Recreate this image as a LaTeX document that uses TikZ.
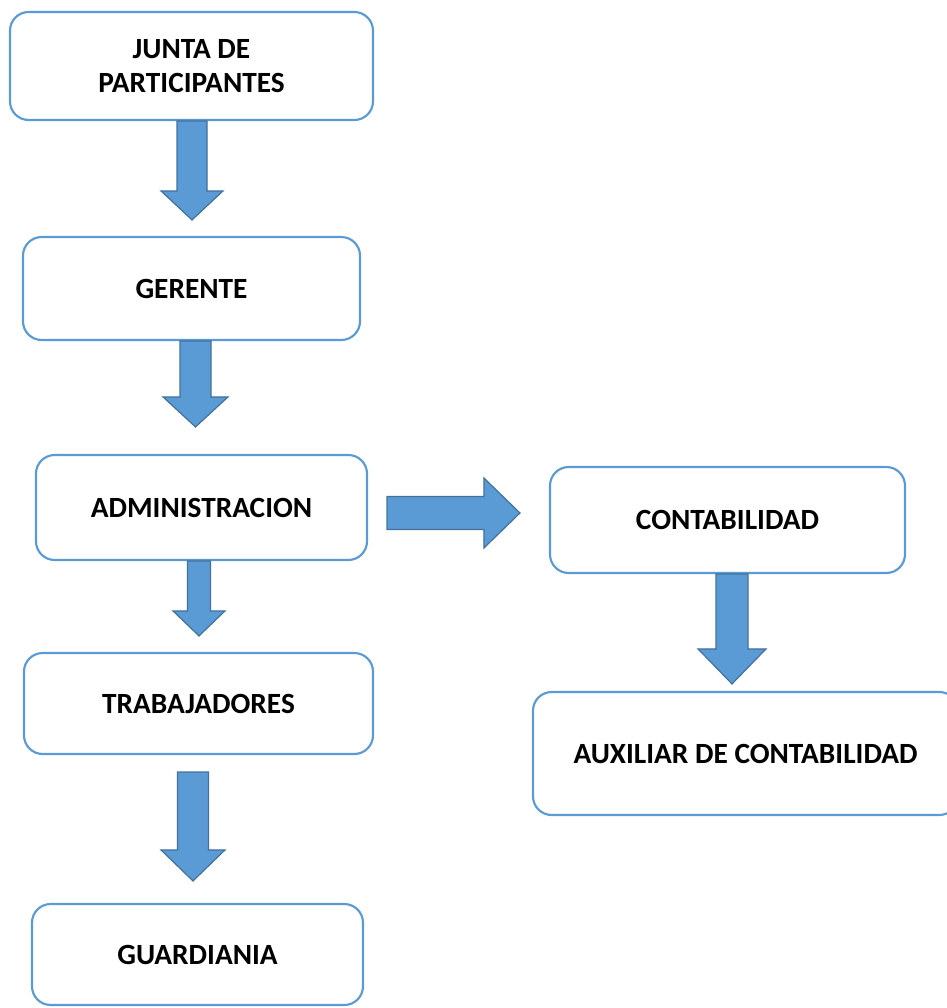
\documentclass[tikz,border=0pt]{standalone}
\usepackage{fontspec}
\setmainfont{Carlito}
\usetikzlibrary{calc}
\definecolor{boxline}{RGB}{91,155,213}
\definecolor{arrowfill}{RGB}{91,155,213}
\definecolor{arrowline}{RGB}{65,113,156}
\tikzset{
  cargo/.style={draw=boxline, line width=1.6pt, rounded corners=14pt, fill=white,
    align=center, inner sep=0pt,
    font=\bfseries\fontsize{22}{25.5}\selectfont},
  % block arrows, args: shaft half width, head half width, head length (px)
  blockdown/.style n args={3}{fill=arrowfill, draw=arrowline, line width=0.9pt,
    to path={let \p1=(\tikztostart), \p2=(\tikztotarget) in
      (\x1-#1*0.75pt,\y1) -- (\x1-#1*0.75pt,\y2+#3*0.75pt) -- (\x1-#2*0.75pt,\y2+#3*0.75pt)
      -- (\x1,\y2) -- (\x1+#2*0.75pt,\y2+#3*0.75pt) -- (\x1+#1*0.75pt,\y2+#3*0.75pt)
      -- (\x1+#1*0.75pt,\y1) -- cycle}},
  blockright/.style n args={3}{fill=arrowfill, draw=arrowline, line width=0.9pt,
    to path={let \p1=(\tikztostart), \p2=(\tikztotarget) in
      (\x1,\y1+#1*0.75pt) -- (\x2-#3*0.75pt,\y1+#1*0.75pt) -- (\x2-#3*0.75pt,\y1+#2*0.75pt)
      -- (\x2,\y1) -- (\x2-#3*0.75pt,\y1-#2*0.75pt) -- (\x2-#3*0.75pt,\y1-#1*0.75pt)
      -- (\x1,\y1-#1*0.75pt) -- cycle}}
}
\begin{document}
\begin{tikzpicture}[x=0.75pt,y=-0.75pt]
\useasboundingbox (0,0) rectangle (947,1008);
% left column
\node[cargo, minimum width=272.25pt, minimum height=81pt] (junta) at (191.5,66) {JUNTA DE\\PARTICIPANTES};
\node[cargo, minimum width=252.75pt, minimum height=77.25pt] (gerente) at (191.5,288.5) {GERENTE};
\node[cargo, minimum width=248.25pt, minimum height=78.75pt] (admin) at (201.5,507.5) {ADMINISTRACION};
\node[cargo, minimum width=261.75pt, minimum height=75.75pt] (trab) at (198.5,703.5) {TRABAJADORES};
\node[cargo, minimum width=248.25pt, minimum height=75.75pt] (guard) at (197.5,954.5) {GUARDIANIA};
% right column
\node[cargo, minimum width=266.25pt, minimum height=79.5pt] (conta) at (727.5,520) {CONTABILIDAD};
\node[cargo, minimum width=318.75pt, minimum height=92.25pt] (aux) at (745.5,753.5) {AUXILIAR DE CONTABILIDAD};
% arrows
\draw[blockdown={15}{31}{29}] ([xshift=0.375pt]junta.south) to ([xshift=0.375pt,yshift=12pt]gerente.north);
\draw[blockdown={15.5}{32.5}{30}] ([xshift=3pt]gerente.south) to ([xshift=-4.5pt,yshift=20.25pt]admin.north);
\draw[blockdown={11.5}{26}{25}] ([xshift=-1.875pt]admin.south) to ([xshift=0.375pt,yshift=12pt]trab.north);
\draw[blockdown={15.5}{32}{31}] ([xshift=-4.125pt,yshift=-12.75pt]trab.south) to ([xshift=-3.375pt,yshift=16.5pt]guard.north);
\draw[blockright={16.5}{35}{36}] ([xshift=14.25pt,yshift=-4.125pt]admin.east) to ([xshift=-21.75pt,yshift=5.25pt]conta.west);
\draw[blockdown={16}{34}{35}] ([xshift=3.375pt]conta.south) to ([xshift=-10.125pt,yshift=5.25pt]aux.north);
\end{tikzpicture}
\end{document}
